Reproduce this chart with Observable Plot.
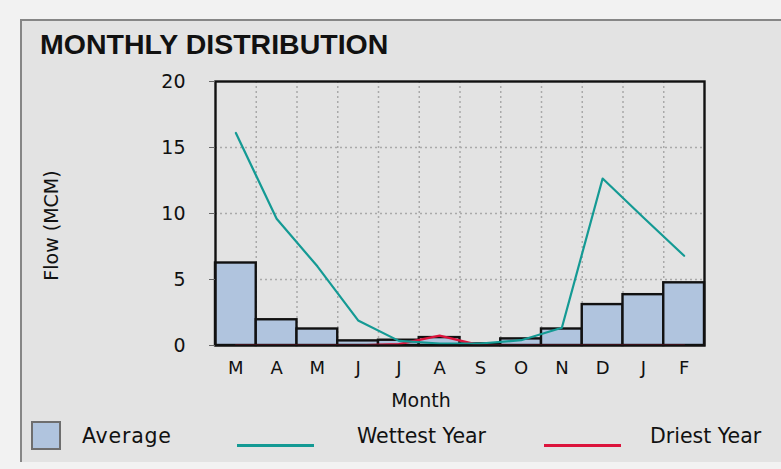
<!DOCTYPE html>
<html>
<head>
<meta charset="utf-8">
<script src="https://cdn.jsdelivr.net/npm/d3@7"></script>
<script src="https://cdn.jsdelivr.net/npm/@observablehq/plot@0.6"></script>
<style>
  html, body { margin: 0; padding: 0; background: #f2f2f2; }
  #page { position: relative; width: 781px; height: 469px; overflow: hidden; background: #f2f2f2; font-family: "DejaVu Sans", sans-serif; color: #111; }
  #panel { position: absolute; left: 20px; top: 19px; width: 790px; height: 443px; background: #e3e3e3;
           border-left: 2px solid #868686; border-top: 2px solid #868686; box-sizing: border-box; }
  #title { position: absolute; left: 40px; top: 29px; font: bold 28.5px "Liberation Sans", sans-serif; line-height: 31px; color: #111; white-space: nowrap; }
  #chart { position: absolute; left: 0; top: 60px; }
  .lg-text { position: absolute; font: 20.5px "DejaVu Sans", sans-serif; line-height: 20.5px; white-space: nowrap; color: #111; }
  .lg-swatch { position: absolute; box-sizing: border-box; border: 2px solid #6e6e6e; }
  .lg-line { position: absolute; height: 3px; }
</style>
</head>
<body>
<div id="page">
  <div id="panel"></div>
  <div id="title">MONTHLY DISTRIBUTION</div>
  <div id="chart"></div>
  <div id="legend"></div>
</div>
<script>
// Monthly flow (MCM), hydrological year starting in March
const months = ["Mar", "Apr", "May", "Jun", "Jul", "Aug", "Sep", "Oct", "Nov", "Dec", "Jan", "Feb"];
const monthLetters = ["M", "A", "M", "J", "J", "A", "S", "O", "N", "D", "J", "F"];
const average = [6.25, 1.95, 1.25, 0.35, 0.4, 0.6, 0.12, 0.5, 1.25, 3.1, 3.85, 4.75];
const wettestYear = [16.1, 9.6, 6.0, 1.9, 0.35, 0.15, 0.15, 0.4, 1.35, 12.65, 9.7, 6.8];
const driestYear = [0, 0, 0, 0, 0.1, 0.75, 0, 0, 0, 0, 0, 0];
const yTicks = [0, 5, 10, 15, 20];

const seriesNames = ["Average", "Wettest Year", "Driest Year"];
const seriesColors = ["#b0c4de", "#149a94", "#dc143c"];

// one row per month: bar spans [i, i+1], line points sit at the month centre
const rows = months.map((m, i) => ({
  month: m,
  x0: i,
  x1: i + 1,
  xc: i + 0.5,
  avg: average[i],
  wet: wettestYear[i],
  dry: driestYear[i]
}));
const boundaries = rows.slice(1).map(d => d.x0);

const chart = Plot.plot({
  width: 781,
  height: 360,
  marginLeft: 215,
  marginRight: 77,
  marginTop: 21,
  marginBottom: 75,
  style: { background: "transparent", fontFamily: "DejaVu Sans, sans-serif", fontSize: "18px", color: "#111", overflow: "visible" },
  x: { domain: [0, months.length] },
  y: { domain: [yTicks[0], yTicks[yTicks.length - 1]] },
  marks: [
    Plot.gridY(yTicks.slice(1, -1), { stroke: "#a9a9a9", strokeOpacity: 1, strokeWidth: 1.5, strokeDasharray: "2,3" }),
    Plot.gridX(boundaries, { stroke: "#a9a9a9", strokeOpacity: 1, strokeWidth: 1.5, strokeDasharray: "2,3" }),
    Plot.rectY(rows, { x1: "x0", x2: "x1", y: "avg", fill: seriesColors[0], stroke: "#111", strokeWidth: 2.4 }),
    // lines are clipped to the frame so zero stretches hide under the baseline
    Plot.lineY(rows, { x: "xc", y: "dry", stroke: seriesColors[2], strokeWidth: 2.4, clip: true }),
    Plot.lineY(rows, { x: "xc", y: "wet", stroke: seriesColors[1], strokeWidth: 2.2, clip: true }),
    Plot.frame({ stroke: "#111", strokeWidth: 2.4 }),
    Plot.axisY(yTicks, { tickSize: 6, tickPadding: 24, stroke: "#666", label: null, fontSize: 19 }),
    Plot.axisX(rows.map(d => d.xc), { tickSize: 0, tickPadding: 16, tickFormat: (d, i) => monthLetters[i], label: null, fontSize: 18 }),
    Plot.text(["Month"], { frameAnchor: "bottom", dx: -39, dy: 61, fontSize: 19, fill: "#111" }),
    Plot.text(["Flow (MCM)"], { frameAnchor: "left", textAnchor: "middle", rotate: -90, dx: -164, dy: 12, fontSize: 19, fill: "#111" })
  ]
});
document.getElementById("chart").appendChild(chart);

// legend below the chart
const legend = document.getElementById("legend");
const legendItems = [
  { kind: "swatch", left: 31, text: 82 },
  { kind: "line", left: 237, text: 357 },
  { kind: "line", left: 544, text: 650 }
];
legendItems.forEach((item, i) => {
  const mark = document.createElement("div");
  if (item.kind === "swatch") {
    mark.className = "lg-swatch";
    Object.assign(mark.style, { left: item.left + "px", top: "421px", width: "30px", height: "29px", background: seriesColors[i] });
  } else {
    mark.className = "lg-line";
    Object.assign(mark.style, { left: item.left + "px", top: "444px", width: "77px", background: seriesColors[i] });
  }
  legend.appendChild(mark);
  const label = document.createElement("div");
  label.className = "lg-text";
  label.textContent = seriesNames[i];
  Object.assign(label.style, { left: item.text + "px", top: "426px" });
  if (i === 0) label.style.letterSpacing = "0.8px";
  legend.appendChild(label);
});
</script>
</body>
</html>
